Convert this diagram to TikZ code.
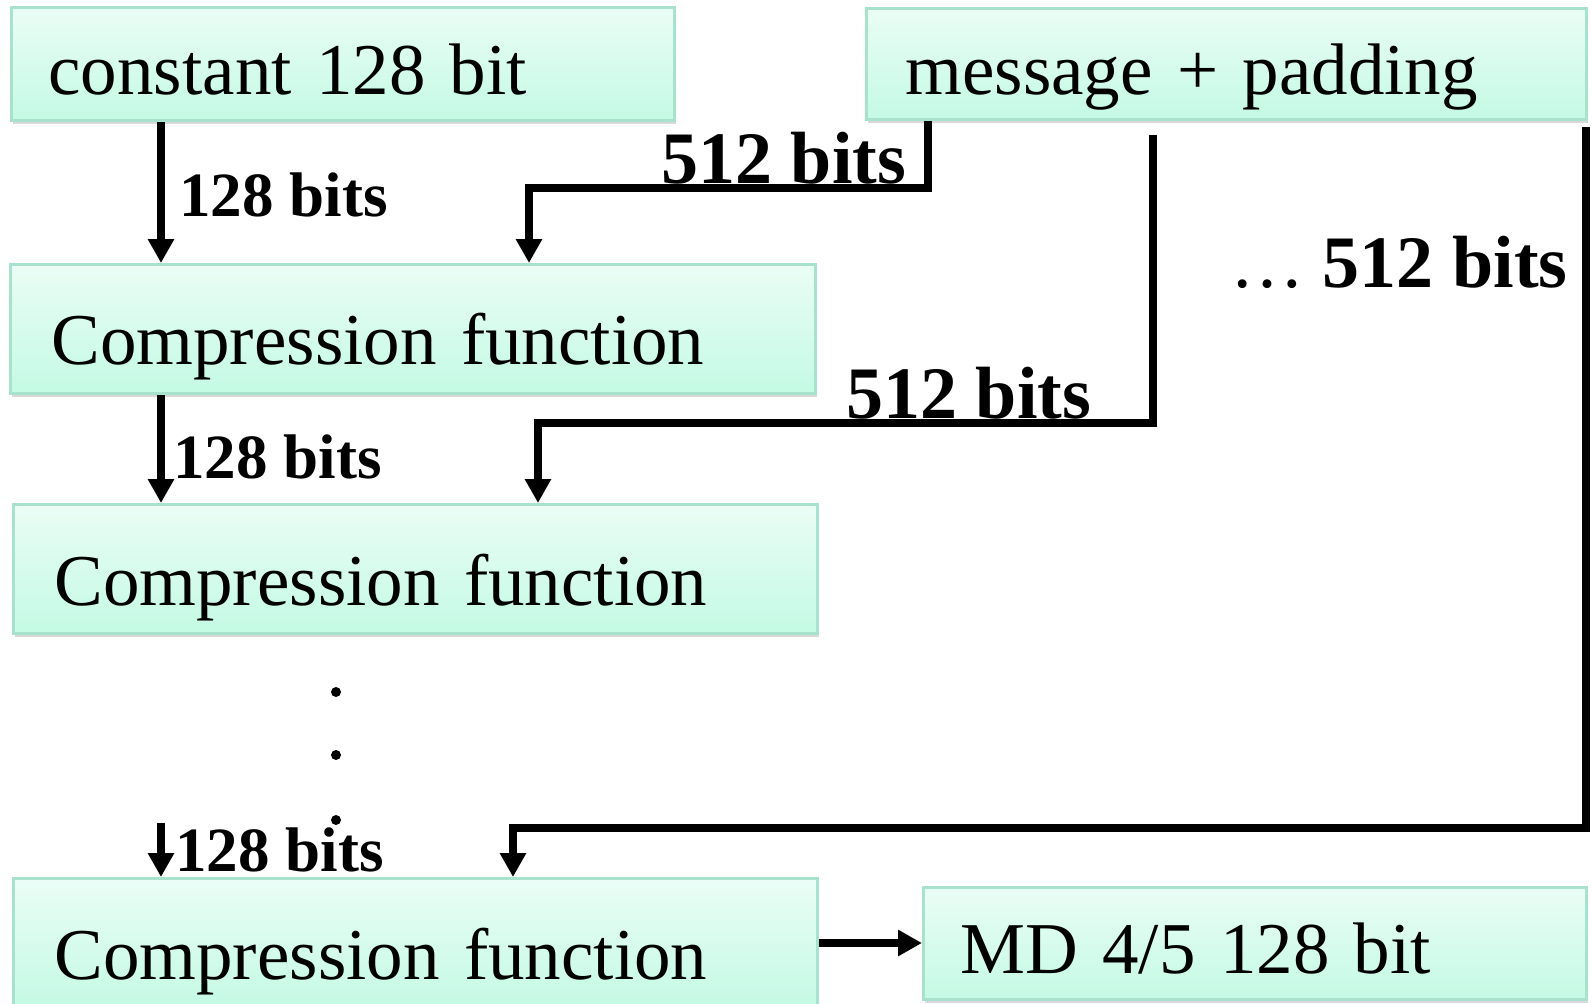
\documentclass[tikz,border=0pt]{standalone}
\usepackage{fontspec}
\setmainfont{Liberation Serif}
\newfontfamily\boxfont[WordSpace=0.8]{Liberation Serif}
\usetikzlibrary{arrows.meta,shadows}
\definecolor{boxtop}{RGB}{234,253,246}
\definecolor{boxbot}{RGB}{196,250,228}
\definecolor{boxline}{RGB}{168,226,204}
\begin{document}
\begin{tikzpicture}[x=0.5pt,y=-0.5pt,
  box/.style={draw=boxline, line width=1.5pt, top color=boxtop, bottom color=boxbot,
    anchor=north west, align=left, text depth=0pt, inner ysep=0pt,
    font=\boxfont\fontsize{36.5}{40}\selectfont,
    drop shadow={shadow xshift=0.6pt, shadow yshift=-1.5pt, opacity=0.25, fill=black!60}},
  lbl/.style={anchor=base west, inner sep=0pt, font=\bfseries\fontsize{37}{40}\selectfont},
  lbls/.style={anchor=base west, inner sep=0pt, font=\bfseries\fontsize{31.5}{34}\selectfont},
  conn/.style={line width=3.7pt, line join=miter},
  arr/.style={conn, -{Triangle[width=12.5pt,length=12pt]}},
  dot/.style={circle, fill=black, inner sep=0pt, minimum size=5pt}]
\useasboundingbox (0,0) rectangle (1592,1003);
\clip (0,0) rectangle (1592,1003);

% boxes
\node[box, minimum width=331.5pt, minimum height=56.5pt, inner xsep=18.5pt, text width=294.5pt, text height=30.5pt] (c0) at (10,6) {constant 128 bit};
\node[box, minimum width=360pt, minimum height=55.5pt, inner xsep=19.5pt, text width=321pt, text height=30.5pt] (msg) at (865,7) {message + padding};
\node[box, minimum width=402.5pt, minimum height=64.5pt, inner xsep=20.5pt, text width=361.5pt, text height=35.5pt] (cf1) at (9,263) {Compression function};
\node[box, minimum width=402pt, minimum height=64.5pt, inner xsep=20.5pt, text width=361pt, text height=36.5pt] (cf2) at (12,503) {Compression function};
\node[box, minimum width=402pt, minimum height=64.5pt, inner xsep=20.5pt, text width=361pt, text height=36.5pt] (cf3) at (12,877) {Compression function};
\node[box, minimum width=331.5pt, minimum height=56pt, inner xsep=18.5pt, text width=294.5pt, text height=30pt] (md) at (922,886) {MD 4/5 128 bit};

% labels
\node[lbls] (l1) at (179,216) {128 bits};
\node[lbl] (l2) at (661,183) {512 bits};
\node[lbls] (l3) at (173,478) {128 bits};
\node[lbl] (l4) at (846,418) {512 bits};
\node[lbl, anchor=base east] (l5) at (1568,287) {\mdseries …\ \bfseries 512 bits};
\node[lbls] (l6) at (175,871) {128 bits};

% dots
\node[dot] (d1) at (336,692) {};
\node[dot] (d2) at (336,755) {};
\node[dot] (d3) at (336,820) {};

% connector coordinates
\coordinate (s1) at ([xshift=75.5pt]c0.south west);
\coordinate (s2) at ([xshift=31.5pt]msg.south west);
\coordinate (k2) at (529,188);
\coordinate (s3) at ([xshift=76pt]cf1.south west);
\coordinate (s4) at (1153,135);
\coordinate (k4) at (538,423);
\coordinate (s5) at (1586,127);
\coordinate (k5) at (513,828);
\coordinate (s6) at (161,823);

% connectors
\draw[arr] (s1) -- (s1 |- cf1.north);
\draw[arr] (s2) |- (k2) -- (k2 |- cf1.north);
\draw[arr] (s3) -- (s3 |- cf2.north);
\draw[arr] (s4) |- (k4) -- (k4 |- cf2.north);
\draw[arr] (s5) |- (k5) -- (k5 |- cf3.north);
\draw[arr] (s6) -- (s6 |- cf3.north);
\draw[arr] (cf3.east) -- (cf3.east -| md.west);
\end{tikzpicture}
\end{document}
